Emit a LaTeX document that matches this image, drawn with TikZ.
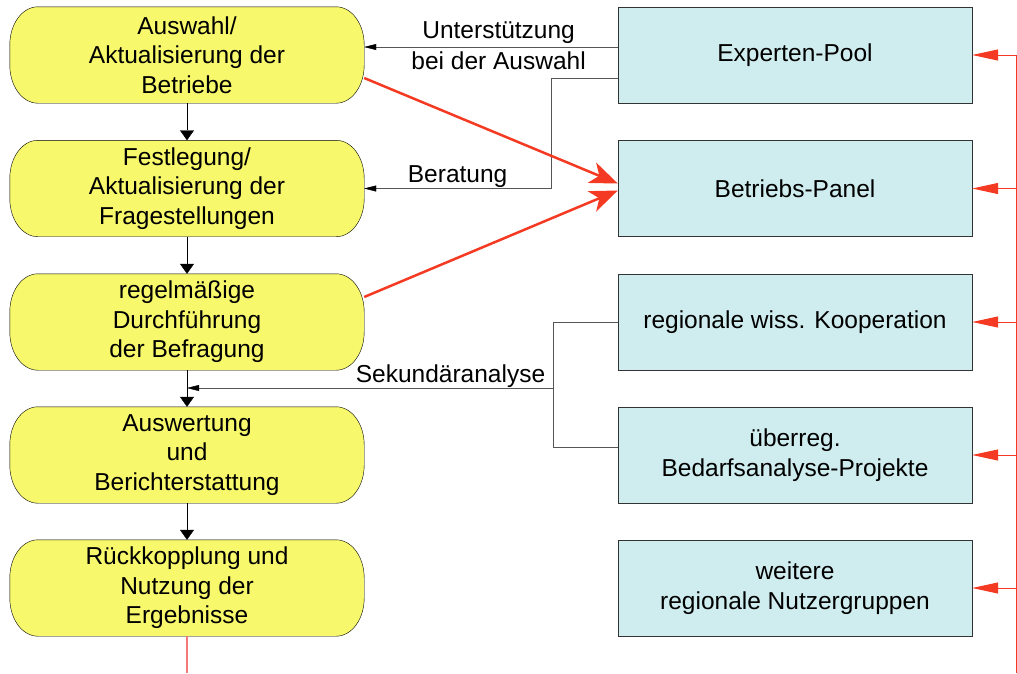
\documentclass[tikz,border=0pt]{standalone}
\usepackage{fontspec}
\setmainfont{Liberation Sans}
\usetikzlibrary{arrows.meta,backgrounds}
\definecolor{ylw}{HTML}{F8F86C}
\definecolor{cyn}{HTML}{CFECEE}
\definecolor{rd}{HTML}{F43A22}
\definecolor{pink}{HTML}{F4787A}
\definecolor{conn}{HTML}{555555}
\begin{document}
\begin{tikzpicture}[x=1pt,y=-1pt,
 every node/.style={font=\fontsize{24.5}{29.5}\selectfont},
 ybox/.style={minimum width=354pt, minimum height=96pt, align=center, inner sep=0pt},
 yshape/.style={draw=black, fill=ylw},
 cbox/.style={draw=black!80, fill=cyn, minimum width=354pt, minimum height=96pt, align=center, inner sep=0pt},
 flow/.style={black, -{Triangle[length=10pt,width=14pt]}},
 info/.style={conn, -{Triangle[length=12pt,width=6pt,color=black]}},
 lbl/.style={text=black},
 feed/.style={rd, line width=1pt, -{Triangle[length=26pt,width=11pt]}},
 big/.style={rd, line width=2.5pt, -{Stealth[length=28pt,width=22pt,inset=8pt]}}]
\useasboundingbox (0,0) rectangle (1017,673);

\node[ybox] (y1) at (187,55) {Auswahl/\\Aktualisierung der\\Betriebe};
\node[ybox] (y2) at (187,188.5) {Festlegung/\\Aktualisierung der\\Fragestellungen};
\node[ybox] (y3) at (187,322) {regelmäßige\\Durchführung\\der Befragung};
\node[ybox] (y4) at (187,455) {Auswertung\\und\\Berichterstattung};
\node[ybox] (y5) at (187,588) {Rückkopplung und\\Nutzung der\\Ergebnisse};

\begin{scope}[on background layer, x=1pt, y=1pt]
\foreach \n in {y1,y2,y3,y4,y5}{
  \path[yshape] ([xshift=28pt]\n.north west) -- ([xshift=-28pt]\n.north east)
    arc[start angle=90, end angle=0, x radius=28, y radius=38]
    -- ([yshift=38pt]\n.south east)
    arc[start angle=0, end angle=-90, x radius=28, y radius=38]
    -- ([xshift=28pt]\n.south west)
    arc[start angle=270, end angle=180, x radius=28, y radius=38]
    -- ([yshift=-38pt]\n.north west)
    arc[start angle=180, end angle=90, x radius=28, y radius=38]
    -- cycle;
}
\end{scope}

\node[cbox] (c1) at (795,55) {Experten-Pool};
\node[cbox] (c2) at (795,188.5) {Betriebs-Panel};
\node[cbox] (c3) at (795,322) {regionale wiss. Kooperation};
\node[cbox] (c4) at (795,455) {überreg.\\Bedarfsanalyse-Projekte};
\node[cbox] (c5) at (795,588) {weitere\\regionale Nutzergruppen};

% flow arrows
\draw[flow] (y1) -- (y2);
\draw[flow] (y2) -- (y3);
\draw[flow] (y3) -- (y4);
\draw[flow] (y4) -- (y5);

% info connectors
\draw[info] ([yshift=8pt]c1.west) -- ([yshift=8pt]y1.east)
  node[lbl, pos=0.47, above, yshift=0pt] {Unterstützung}
  node[lbl, pos=0.47, below, yshift=-1pt] {bei der Auswahl};
\coordinate (bk) at (551,78);
\draw[info] ([yshift=-23pt]c1.west) -- (bk) -- (bk |- y2.east) -- (y2.east)
  node[lbl, pos=0.5, above, yshift=-3pt] {Beratung};

\coordinate (sk) at (553,388);
\draw[conn] (c3.west) -- (sk |- c3.west) -- (sk |- 0,447) -- ([yshift=8pt]c4.west);
\draw[info] (sk) -- (y3.south |- sk)
  node[lbl, pos=0.28, above, yshift=-3pt] {Sekundäranalyse};

% big red arrows
\draw[big] ([yshift=-23pt]y1.east) -- ([yshift=5pt]c2.west);
\draw[big] ([yshift=25pt]y3.east) -- ([yshift=-2pt]c2.west);

% red feedback
\coordinate (rt) at (1016,55);
\coordinate (rb) at (1016,673);
\draw[rd, line width=1pt] (rb) -- (rt);
\draw[feed] (rt) -- (c1.east);
\draw[feed] (c2.east -| rt) -- (c2.east);
\draw[feed] (c3.east -| rt) -- (c3.east);
\draw[feed] (c4.east -| rt) -- (c4.east);
\draw[feed] (c5.east -| rt) -- (c5.east);
\draw[pink, line width=1.2pt] (y5.south) -- (y5.south |- rb);
\end{tikzpicture}
\end{document}
